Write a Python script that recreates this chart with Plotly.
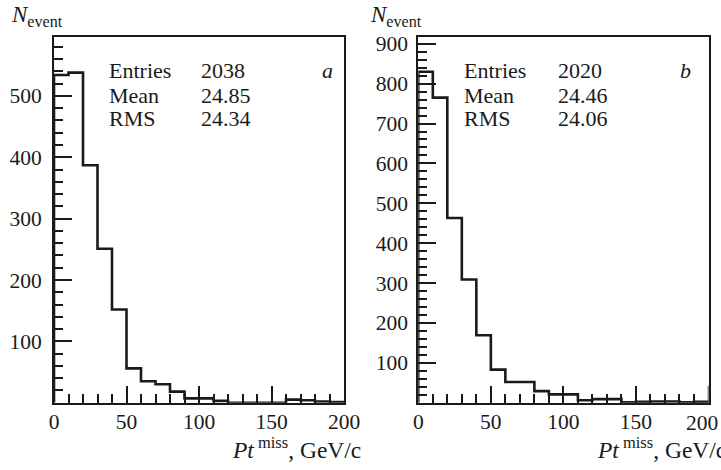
import plotly.graph_objects as go
from plotly.subplots import make_subplots

# ---- data ----
bin_edges = [0, 10, 20, 30, 40, 50, 60, 70, 80, 90, 100, 110, 120, 130, 140, 150, 160, 170, 180, 190, 200]
counts_a = [534, 538, 387, 251, 152, 56, 35, 30, 18, 7, 7, 3, 0, 0, 0, 0, 5, 4, 2, 1]
counts_b = [830, 765, 463, 309, 169, 83, 52, 52, 29, 21, 21, 6, 9, 9, 1, 2, 3, 3, 1, 2]
stats_a = [("Entries", "2038"), ("Mean", "24.85"), ("RMS", "24.34")]
stats_b = [("Entries", "2020"), ("Mean", "24.46"), ("RMS", "24.06")]
panel_labels = ["a", "b"]
yranges = [[0, 596], [0, 917]]
ytickvals = [[100, 200, 300, 400, 500], [100, 200, 300, 400, 500, 600, 700, 800, 900]]
xtickvals = [0, 50, 100, 150, 200]

W, H = 721, 470
FONT = "Liberation Serif, Tinos, Times New Roman, DejaVu Serif, serif"
INK = "#1a1a1a"

fig = make_subplots(rows=1, cols=2)

def step_xy(edges, counts):
    xs = [edges[0]] + list(edges)
    ys = [0] + list(counts) + [0]
    return xs, ys

for i, counts in enumerate([counts_a, counts_b]):
    xs, ys = step_xy(bin_edges, counts)
    fig.add_trace(go.Scatter(x=xs, y=ys, mode="lines", line_shape="hv",
                             line=dict(color=INK, width=2.6), showlegend=False,
                             hoverinfo="skip"), row=1, col=i + 1)

def sx(p):  # screen x pixel -> paper fraction
    return p / W

def sy(p):  # screen y pixel -> paper fraction
    return 1 - p / H

left_px = [54, 344]
right_px = [418.3, 708.5]
left_dom = [sx(left_px[0]), sx(left_px[1])]
right_dom = [sx(right_px[0]), sx(right_px[1])]
ydom = [sy(402.7), sy(37)]

tick_font = dict(family=FONT, size=21.5, color=INK)
axis_common = dict(showgrid=False, zeroline=False, showline=True, linecolor=INK,
                   linewidth=1.8, mirror=True, ticks="inside", tickcolor=INK,
                   tickwidth=1.5, automargin=False, tickfont=tick_font)

for i, dom in enumerate([left_dom, right_dom]):
    xa = "xaxis" if i == 0 else "xaxis2"
    ya = "yaxis" if i == 0 else "yaxis2"
    # the last label of the right panel sits at the page edge; it is added below
    xt = xtickvals if i == 0 else xtickvals[:-1]
    fig.layout[xa].update(domain=dom, range=[0, 200], tickvals=xt,
                          ticklen=17, ticklabelstandoff=-1,
                          minor=dict(dtick=10, tick0=0, ticklen=9, ticks="inside",
                                     tickcolor=INK, tickwidth=1.5),
                          **axis_common)
    fig.layout[ya].update(domain=ydom, range=yranges[i], tickvals=ytickvals[i],
                          ticklen=18, ticklabelstandoff=6 if i == 0 else 4,
                          minor=dict(dtick=20, tick0=0, ticklen=9, ticks="inside",
                                     tickcolor=INK, tickwidth=1.5),
                          **axis_common)

annots = []
# major tick at the right end of panel b (tick mark) + its label near the page edge
fig.add_shape(type="line", xref="x2", yref="y2 domain", x0=xtickvals[-1], x1=xtickvals[-1],
              y0=0, y1=17 / (402.7 - 37), line=dict(color=INK, width=1.5))
annots.append(dict(x=xtickvals[-1], xref="x2", y=sy(423), yref="paper",
                   text=str(xtickvals[-1]), showarrow=False, xanchor="center",
                   yanchor="middle", xshift=-7, font=tick_font))

stat_font = dict(family=FONT, size=22, color=INK)
for i, (stats, px) in enumerate([(stats_a, left_px), (stats_b, right_px)]):
    x0 = px[0]
    name_x = x0 + (53 if i == 0 else 44)
    val_x = x0 + (145 if i == 0 else 138)
    for j, (name, val) in enumerate(stats):
        yc = [70, 95, 119][j]
        annots.append(dict(x=sx(name_x), y=sy(yc), xref="paper", yref="paper",
                           text=name, showarrow=False, xanchor="left", yanchor="middle",
                           font=stat_font))
        annots.append(dict(x=sx(val_x), y=sy(yc), xref="paper", yref="paper",
                           text=val, showarrow=False, xanchor="left", yanchor="middle",
                           font=stat_font))
    lab_x = x0 + (266 if i == 0 else 260)
    annots.append(dict(x=sx(lab_x), y=sy(70), xref="paper", yref="paper",
                       text="<i>" + panel_labels[i] + "</i>", showarrow=False,
                       xanchor="left", yanchor="middle", font=stat_font))
    # y title
    annots.append(dict(x=sx(x0 - (45 if i == 0 else 50)), y=sy(0), xref="paper", yref="paper",
                       text="<i>N</i><sub>event</sub>", showarrow=False,
                       xanchor="left", yanchor="top",
                       font=dict(family=FONT, size=23, color=INK)))
    # x title
    annots.append(dict(x=sx(px[1] + 19), y=sy(448), xref="paper", yref="paper",
                       text="<i>Pt</i><sup> miss</sup>, GeV/c", showarrow=False,
                       xanchor="right", yanchor="middle",
                       font=dict(family=FONT, size=23.5, color=INK)))

fig.update_layout(width=W, height=H, margin=dict(l=0, r=0, t=0, b=0),
                  paper_bgcolor="white", plot_bgcolor="white",
                  annotations=annots, showlegend=False)

fig.write_html("out.html", config={"displayModeBar": False},
               post_script="document.body.style.margin='0';document.body.style.overflow='hidden';")
